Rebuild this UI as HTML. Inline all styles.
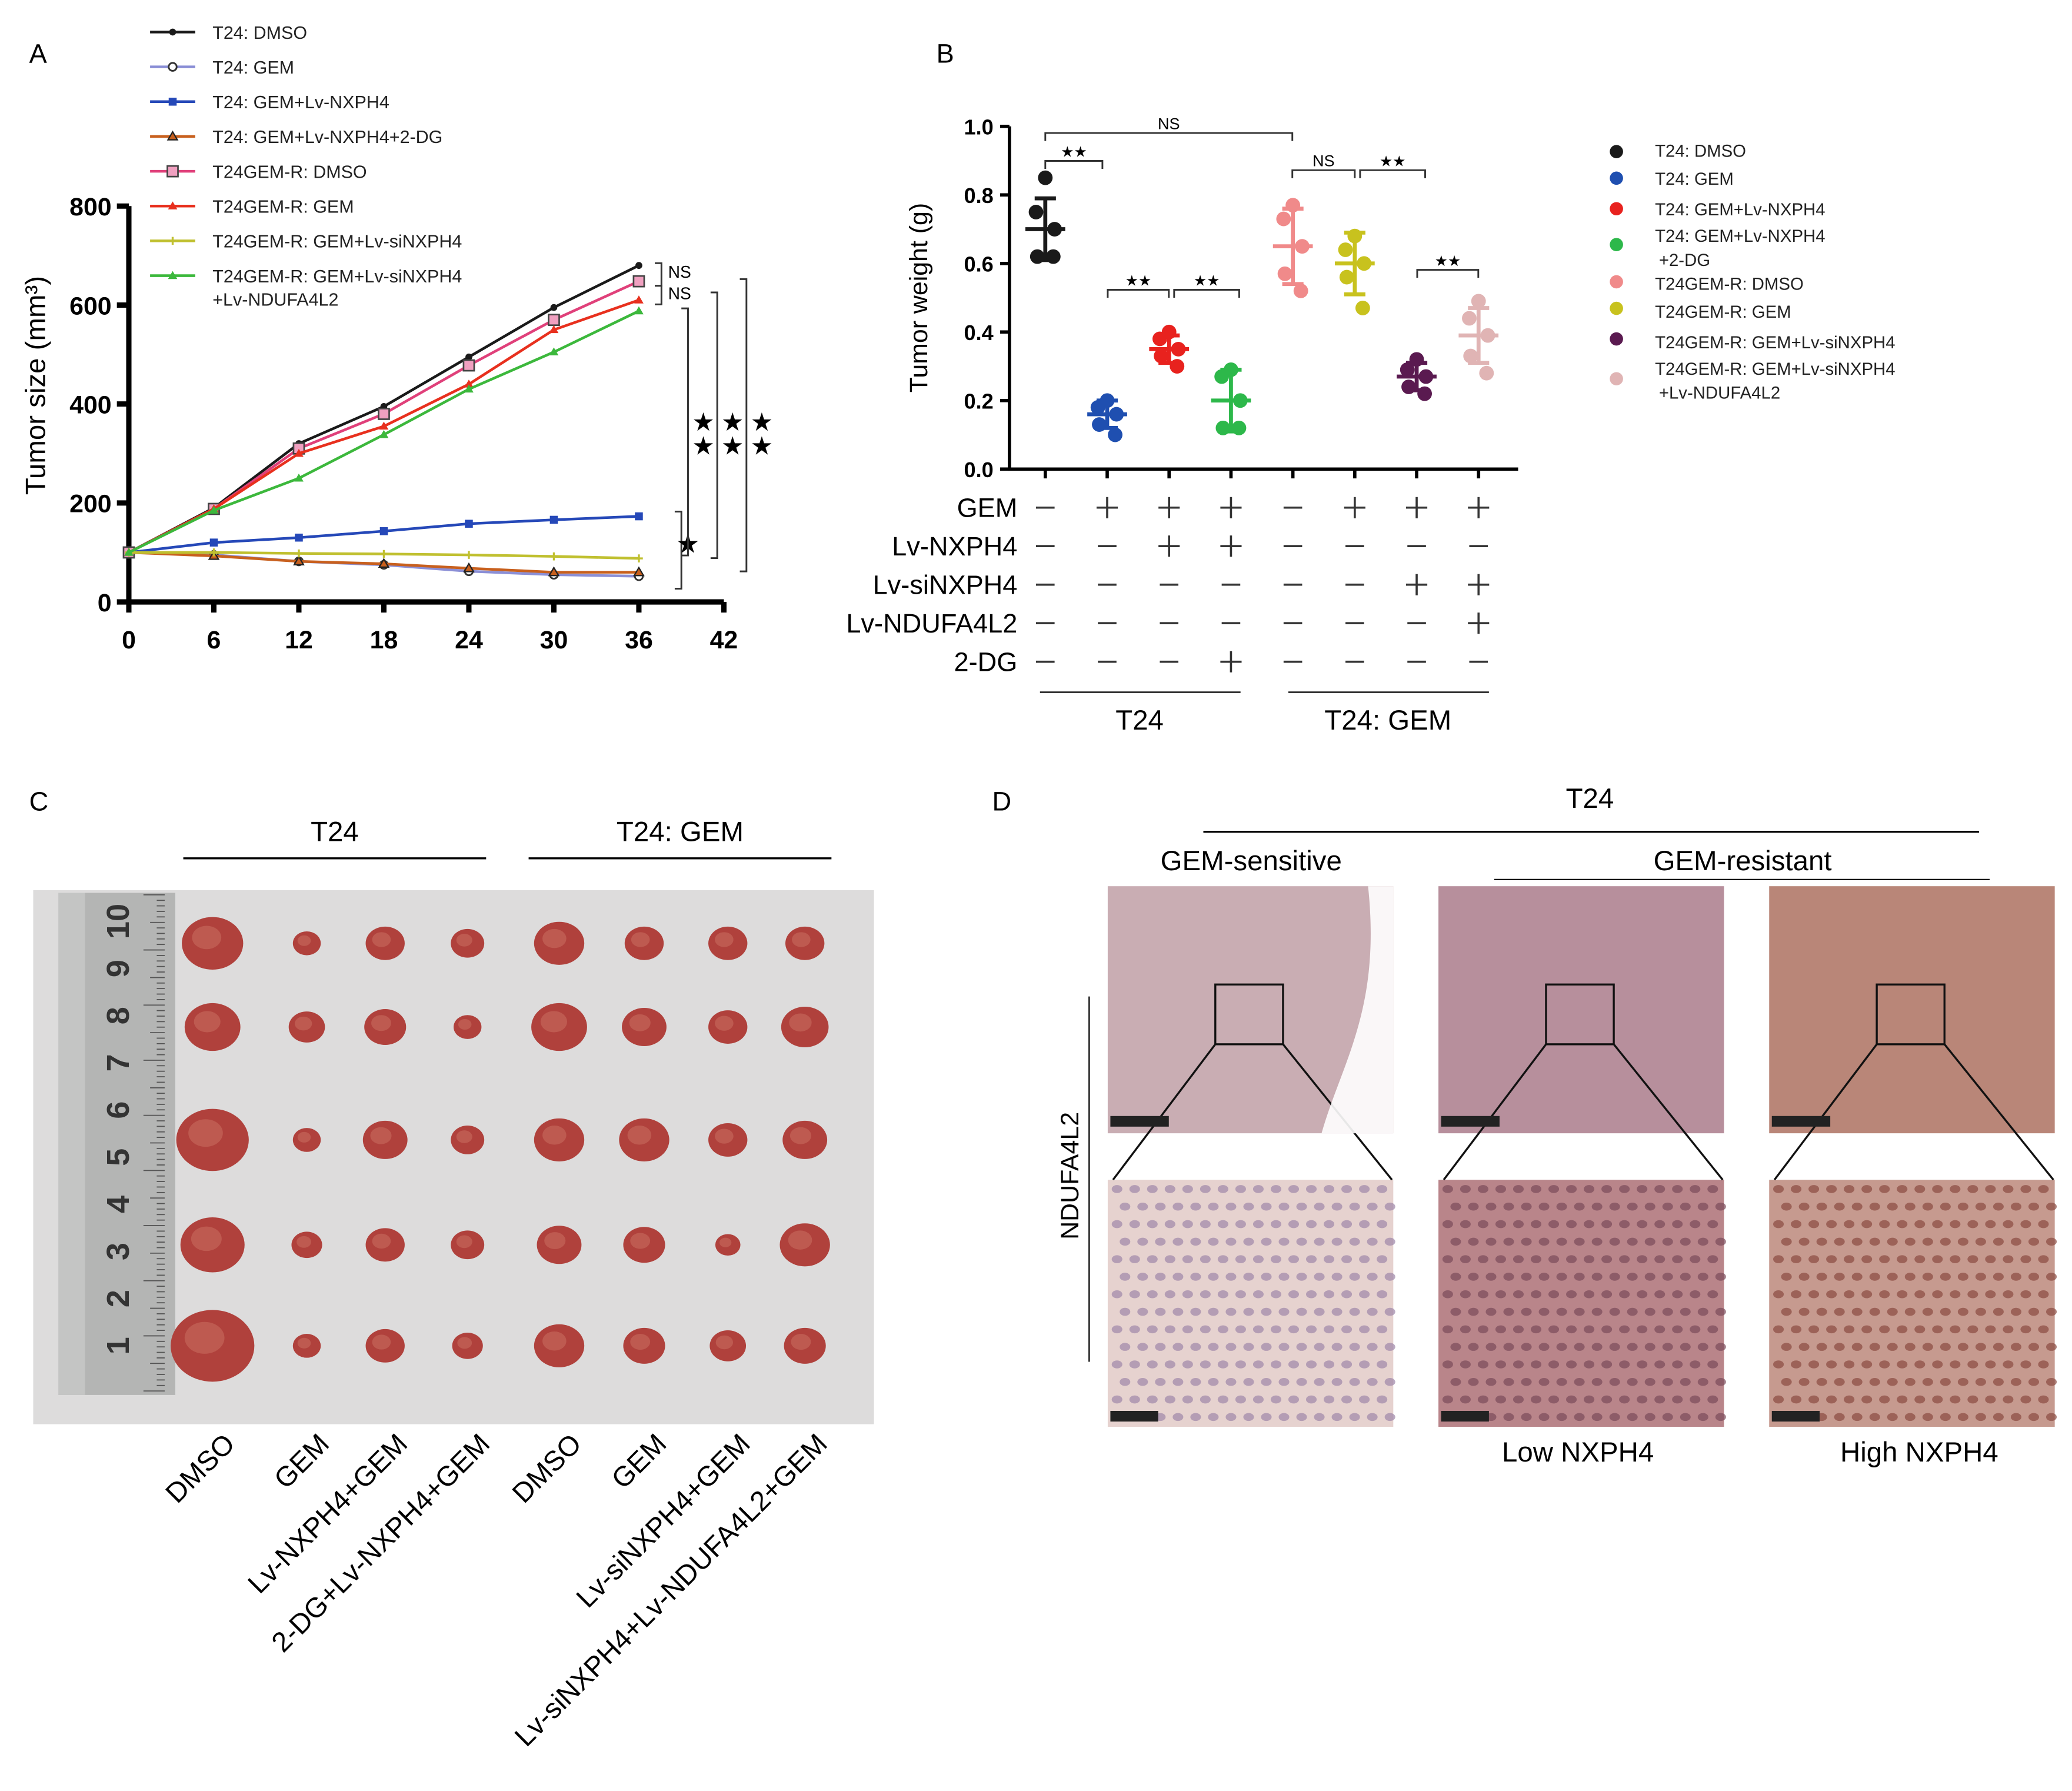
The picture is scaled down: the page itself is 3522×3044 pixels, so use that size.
<!DOCTYPE html>
<html><head><meta charset="utf-8"><style>
html,body{margin:0;padding:0;background:#fff}
svg{display:block;font-family:"Liberation Sans",Arial,sans-serif}
</style></head><body>
<svg id="fig" width="3522" height="3044" viewBox="0 0 1560 1348" xmlns="http://www.w3.org/2000/svg">
<rect width="1560" height="1348" fill="#fff"/>
<g id="pa">
<text x="22" y="47" font-size="20">A</text>
</g>
<g id="pb">
<text x="705" y="47" font-size="20">B</text>
</g>
<g id="pc">
<text x="22" y="610" font-size="20">C</text>
<text x="252" y="633" font-size="21" text-anchor="middle">T24</text>
<line x1="138" y1="646" x2="366" y2="646" stroke="#000" stroke-width="1.5"/>
<text x="512" y="633" font-size="21" text-anchor="middle">T24: GEM</text>
<line x1="398" y1="646" x2="626" y2="646" stroke="#000" stroke-width="1.5"/>
<rect x="25" y="670" width="633" height="402" fill="#dddcdc"/>
<rect x="44" y="672" width="88" height="378" fill="#b4b5b4"/>
<rect x="44" y="672" width="20" height="378" fill="#c4c5c4"/>
</g>
<g id="pd">
<text x="747" y="610" font-size="20">D</text>
<text x="1197" y="608" font-size="21" text-anchor="middle">T24</text>
<line x1="906" y1="626" x2="1490" y2="626" stroke="#000" stroke-width="1.5"/>
<text x="942" y="655" font-size="21" text-anchor="middle">GEM-sensitive</text>
<text x="1312" y="655" font-size="21" text-anchor="middle">GEM-resistant</text>
<line x1="1125" y1="662" x2="1498" y2="662" stroke="#000" stroke-width="1"/>
<text x="812" y="885" font-size="19" text-anchor="middle" transform="rotate(-90 812 885)">NDUFA4L2</text>
<line x1="820" y1="750" x2="820" y2="1025" stroke="#000" stroke-width="1"/>
<text x="1188" y="1100" font-size="21" text-anchor="middle">Low NXPH4</text>
<text x="1445" y="1100" font-size="21" text-anchor="middle">High NXPH4</text>
</g>
</svg>
<script>
const NS="http://www.w3.org/2000/svg";
function mk(p,t,a,txt){const e=document.createElementNS(NS,t);for(const k in a)e.setAttribute(k,a[k]);if(txt!==undefined)e.textContent=txt;p.appendChild(e);return e;}

/* ---------- Panel A data ---------- */
const daysA=[0,6,12,18,24,30,36];
const xTicksA=[0,6,12,18,24,30,36,42];
const yTicksA=[0,200,400,600,800];
const namesA=["T24: DMSO","T24: GEM","T24: GEM+Lv-NXPH4","T24: GEM+Lv-NXPH4+2-DG","T24GEM-R: DMSO","T24GEM-R: GEM","T24GEM-R: GEM+Lv-siNXPH4","T24GEM-R: GEM+Lv-siNXPH4"];
const s0=[100,190,320,395,495,595,680];
const s1=[100,95,82,75,62,55,52];
const s2=[100,120,130,143,158,166,173];
const s3=[100,93,82,77,68,60,60];
const s4=[100,188,310,380,478,570,648];
const s5=[100,188,300,355,440,550,610];
const s6=[100,100,98,97,95,92,88];
const s7=[100,185,250,338,430,505,588];
const seriesA=[s0,s1,s2,s3,s4,s5,s6,s7];
const colA=["#1a1a1a","#8b8fd6","#2548b8","#c8601e","#e0407a","#e8301e","#c0c030","#3cb83c"];
const mkA=["dot","circle","square","tri","sq2","tri","plus","tri"];

const pa=document.getElementById('pa');
const ax=v=>97+v*(545-97)/42, ay=v=>453-v*(453-155)/800;
xTicksA.forEach(t=>{const l=mk(pa,'line',{x1:ax(t),x2:ax(t),y1:453,y2:461,stroke:'#000','stroke-width':4});

const tx=mk(pa,'text',{x:ax(t),y:488,'font-size':19,'font-weight':'bold','text-anchor':'middle'},t);
});
yTicksA.forEach(t=>{mk(pa,'line',{x1:88,x2:97,y1:ay(t),y2:ay(t),stroke:'#000','stroke-width':4});
const tx=mk(pa,'text',{x:84,y:ay(t)+7,'font-size':19,'font-weight':'bold','text-anchor':'end'},t);
});
let axl=mk(pa,'path',{d:`M97,${ay(800)} V453 H${ax(42)}`,fill:'none',stroke:'#000','stroke-width':4});

let yt=mk(pa,'text',{x:34,y:290,'font-size':21,'text-anchor':'middle',transform:'rotate(-90 34 290)'},'Tumor size (mm³)');

function marker(g,kind,x,y,c){
 if(kind==='dot')mk(g,'circle',{cx:x,cy:y,r:2.6,fill:c});
 else if(kind==='circle')mk(g,'circle',{cx:x,cy:y,r:3,fill:'#fff',stroke:'#333','stroke-width':1.3});
 else if(kind==='square')mk(g,'rect',{x:x-3,y:y-3,width:6,height:6,fill:c});
 else if(kind==='sq2')mk(g,'rect',{x:x-4,y:y-4,width:8,height:8,fill:'#f0a0c0',stroke:'#444','stroke-width':1.2});
 else if(kind==='tri')mk(g,'path',{d:`M${x},${y-3.5} L${x+3.5},${y+2.5} L${x-3.5},${y+2.5}Z`,fill:c,stroke:c==='#c8601e'?'#222':'none'});
 else if(kind==='plus')mk(g,'path',{d:`M${x-3},${y}H${x+3}M${x},${y-3}V${y+3}`,stroke:c,'stroke-width':1.5});
}
seriesA.forEach((s,i)=>{
 const g=mk(pa,'g',{});
 
 mk(g,'polyline',{points:s.map((v,j)=>ax(daysA[j])+','+ay(v)).join(' '),fill:'none',stroke:colA[i],'stroke-width':2});
 s.forEach((v,j)=>marker(g,mkA[i],ax(daysA[j]),ay(v),colA[i]));
 const ly=24+i*26.2;
 const lg=mk(pa,'g',{});
 
 mk(lg,'line',{x1:113,x2:147,y1:ly,y2:ly,stroke:colA[i],'stroke-width':2});
 marker(lg,mkA[i],130,ly,colA[i]);
 mk(lg,'text',{x:160,y:ly+5,'font-size':13.5,fill:'#222'},namesA[i]);
});
mk(pa,'text',{x:160,y:230,'font-size':13.5,fill:'#222'},'+Lv-NDUFA4L2');
const br=(x,y1,y2)=>mk(pa,'path',{d:`M${x-5},${y1}H${x}V${y2}H${x-5}`,fill:'none',stroke:'#333','stroke-width':1.3});
br(498,198,215);br(498,215,229);
mk(pa,'text',{x:503,y:209,'font-size':12.5},'NS');mk(pa,'text',{x:503,y:225,'font-size':12.5},'NS');
br(513,385,443);mk(pa,'text',{x:509,y:416,'font-size':20},'★');
br(518,232,418);br(540,220,420);br(562,210,430);
[521,543,565].forEach(x=>{mk(pa,'text',{x:x,y:324,'font-size':19},'★');mk(pa,'text',{x:x,y:342,'font-size':19},'★');});

/* ---------- Panel B data ---------- */
const groupsB=["T24: DMSO","T24: GEM","T24: GEM+Lv-NXPH4","T24: GEM+Lv-NXPH4 +2-DG","T24GEM-R: DMSO","T24GEM-R: GEM","T24GEM-R: GEM+Lv-siNXPH4","T24GEM-R: GEM+Lv-siNXPH4 +Lv-NDUFA4L2"];
const ptsB=[[0.85,0.75,0.70,0.62,0.62],[0.20,0.18,0.16,0.13,0.10],[0.40,0.38,0.35,0.33,0.30],[0.29,0.27,0.20,0.12,0.12],[0.77,0.73,0.65,0.57,0.52],[0.68,0.64,0.60,0.56,0.47],[0.32,0.29,0.27,0.24,0.22],[0.49,0.44,0.39,0.33,0.28]];
const meanB=[0.70,0.16,0.35,0.20,0.65,0.60,0.27,0.39];
const sdB=[0.09,0.04,0.04,0.09,0.11,0.09,0.04,0.08];
const yTicksB=[0,0.2,0.4,0.6,0.8,1.0];
const colB=["#1a1a1a","#1f4fb0","#e8221e","#2db84a","#f08a8a","#c8c21e","#5a1a50","#e0b4b4"];
const pb=document.getElementById('pb');
const bx=i=>787+i*46.6, by=v=>353-v*(353-95);
mk(pb,'path',{d:`M760,${by(1)}V353H1143`,fill:'none',stroke:'#000','stroke-width':2.5});
yTicksB.forEach(t=>{mk(pb,'line',{x1:753,x2:760,y1:by(t),y2:by(t),stroke:'#000','stroke-width':2.5});
const tx=mk(pb,'text',{x:748,y:by(t)+6,'font-size':16,'font-weight':'bold','text-anchor':'end'},t.toFixed(1));
});
for(let i=0;i<8;i++)mk(pb,'line',{x1:bx(i),x2:bx(i),y1:353,y2:360,stroke:'#000','stroke-width':2.5});
let ytb=mk(pb,'text',{x:698,y:224,'font-size':19,'text-anchor':'middle',transform:'rotate(-90 698 224)'},'Tumor weight (g)');

ptsB.forEach((pts,i)=>{
 const g=mk(pb,'g',{});
 
 const c=colB[i],x=bx(i);
 mk(g,'path',{d:`M${x},${by(meanB[i]+sdB[i])}V${by(meanB[i]-sdB[i])}M${x-8},${by(meanB[i]+sdB[i])}h16M${x-8},${by(meanB[i]-sdB[i])}h16M${x-15},${by(meanB[i])}h30`,stroke:c,'stroke-width':3,fill:'none'});
 const off=[0,-7,7,-6,6];
 pts.forEach((v,j)=>mk(g,'circle',{cx:x+off[j],cy:by(v),r:5.5,fill:c}));
 const ly=114+[0,20,43,70,98,118,141,171][i];
 const lg=mk(pb,'g',{});
 
 mk(lg,'circle',{cx:1217,cy:ly,r:5,fill:c});
});
[["T24: DMSO",118],["T24: GEM",139],["T24: GEM+Lv-NXPH4",162],["T24: GEM+Lv-NXPH4",182],["+2-DG",200],["T24GEM-R: DMSO",218],["T24GEM-R: GEM",239],["T24GEM-R: GEM+Lv-siNXPH4",262],["T24GEM-R: GEM+Lv-siNXPH4",282],["+Lv-NDUFA4L2",300]].forEach(([t,y])=>mk(pb,'text',{x:t.startsWith('+')?1249:1246,y:y,'font-size':13,fill:'#222'},t));
const sb=(x1,x2,y,lab)=>{mk(pb,'path',{d:`M${x1},${y+6}V${y}H${x2}V${y+6}`,fill:'none',stroke:'#333','stroke-width':1.3});mk(pb,'text',{x:(x1+x2)/2,y:y-3,'font-size':lab==='NS'?12:11,'text-anchor':'middle'},lab);};
sb(787,973,100,'NS');sb(787,830,121,'★★');sb(834,880,218,'★★');sb(884,933,218,'★★');
sb(973,1020,128,'NS');sb(1024,1073,128,'★★');sb(1067,1113,203,'★★');
const rowsB=[["GEM","-","+","+","+","-","+","+","+"],["Lv-NXPH4","-","-","+","+","-","-","-","-"],["Lv-siNXPH4","-","-","-","-","-","-","+","+"],["Lv-NDUFA4L2","-","-","-","-","-","-","-","+"],["2-DG","-","-","-","+","-","-","-","-"]];
rowsB.forEach((r,k)=>{const y=382+k*29;
 const t=mk(pb,'text',{x:766,y:y+7,'font-size':20,'text-anchor':'end'},r[0]);
 
 for(let i=0;i<8;i++){const x=bx(i);if(r[i+1]==='+')mk(pb,'path',{d:`M${x-8},${y}h16M${x},${y-8}v16`,stroke:'#333','stroke-width':1.6});
 else mk(pb,'line',{x1:x-7,x2:x+7,y1:y,y2:y,stroke:'#333','stroke-width':1.6});}
});
mk(pb,'line',{x1:783,x2:934,y1:521,y2:521,stroke:'#333','stroke-width':1.3});
mk(pb,'line',{x1:970,x2:1121,y1:521,y2:521,stroke:'#333','stroke-width':1.3});
mk(pb,'text',{x:858,y:549,'font-size':21,'text-anchor':'middle'},'T24');
mk(pb,'text',{x:1045,y:549,'font-size':21,'text-anchor':'middle'},'T24: GEM');

/* ---------- Panel C ---------- */
const pc=document.getElementById('pc');
const colsC=[160,231,290,352,421,485,548,606];
const rowsYC=[710,773,858,937,1013];
const sizeC=[[22,10,14,12,18,14,14,14],[20,13,15,10,20,16,14,17],[26,10,16,12,18,18,14,16],[23,11,14,12,16,15,9,18],[30,10,14,11,18,15,13,15]];
const labelsC=["DMSO","GEM","Lv-NXPH4+GEM","2-DG+Lv-NXPH4+GEM","DMSO","GEM","Lv-siNXPH4+GEM","Lv-siNXPH4+Lv-NDUFA4L2+GEM"];
for(let k=0;k<=90;k++){const y=1047-k*4.15;mk(pc,'line',{x1:124-(k%10===0?16:k%5===0?11:6),x2:124,y1:y,y2:y,stroke:'#555','stroke-width':0.8});}
for(let n=1;n<=10;n++){const cy=1013-(n-1)*35.5;mk(pc,'text',{x:89,y:cy+8,'font-size':24,'font-weight':'bold',fill:'#333','text-anchor':'middle',transform:`rotate(-90 89 ${cy})`},n);}
sizeC.forEach((row,r)=>row.forEach((s,i)=>{const y=rowsYC[r];
 const e=mk(pc,'ellipse',{cx:colsC[i],cy:y,rx:s*1.05,ry:s*0.9,fill:'#b0413c'});
 
 mk(pc,'ellipse',{cx:colsC[i]-s*0.2,cy:y-s*0.2,rx:s*0.5,ry:s*0.4,fill:'#c86a5e',opacity:0.6});}));
labelsC.forEach((t,i)=>{const x=colsC[i]+18,y=1088;
 const tx=mk(pc,'text',{x:x,y:y,'font-size':21,'text-anchor':'end',transform:`rotate(-45 ${x} ${y})`},t);
 });

/* ---------- Panel D ---------- */
const pd=document.getElementById('pd');
const xsD=[834,1083,1332];
const topCol=["#c9adb3","#b78f9c","#b98678"], botCol=["#e6d2cf","#b9858a","#c69a8f"];
const nucCol=["#9e86a8","#7a4a5a","#8a4a40"];
xsD.forEach((x,i)=>{
 const t=mk(pd,'rect',{x:x,y:667,width:215,height:186,fill:topCol[i]});
 
 const b=mk(pd,'rect',{x:x,y:888,width:215,height:186,fill:botCol[i]});
 
 for(let r=0;r<14;r++)for(let c=0;c<16;c++)mk(pd,'ellipse',{cx:x+7+c*13.3+(r%2)*6,cy:895+r*13.2,rx:4,ry:3,fill:nucCol[i],opacity:0.7});
 mk(pd,'rect',{x:x+81,y:741,width:51,height:45,fill:'none',stroke:'#111','stroke-width':1.5});
 mk(pd,'line',{x1:x+81,y1:786,x2:x+4,y2:888,stroke:'#111','stroke-width':1.5});
 mk(pd,'line',{x1:x+132,y1:786,x2:x+214,y2:888,stroke:'#111','stroke-width':1.5});
 mk(pd,'rect',{x:x+2,y:840,width:44,height:8,fill:'#222'});
 mk(pd,'rect',{x:x+2,y:1062,width:36,height:8,fill:'#222'});
});
mk(pd,'path',{d:'M1030,667 L1049,667 L1049,853 L995,853 C1010,800 1040,760 1030,667Z',fill:'#fff',opacity:0.9});
</script>
</body></html>
